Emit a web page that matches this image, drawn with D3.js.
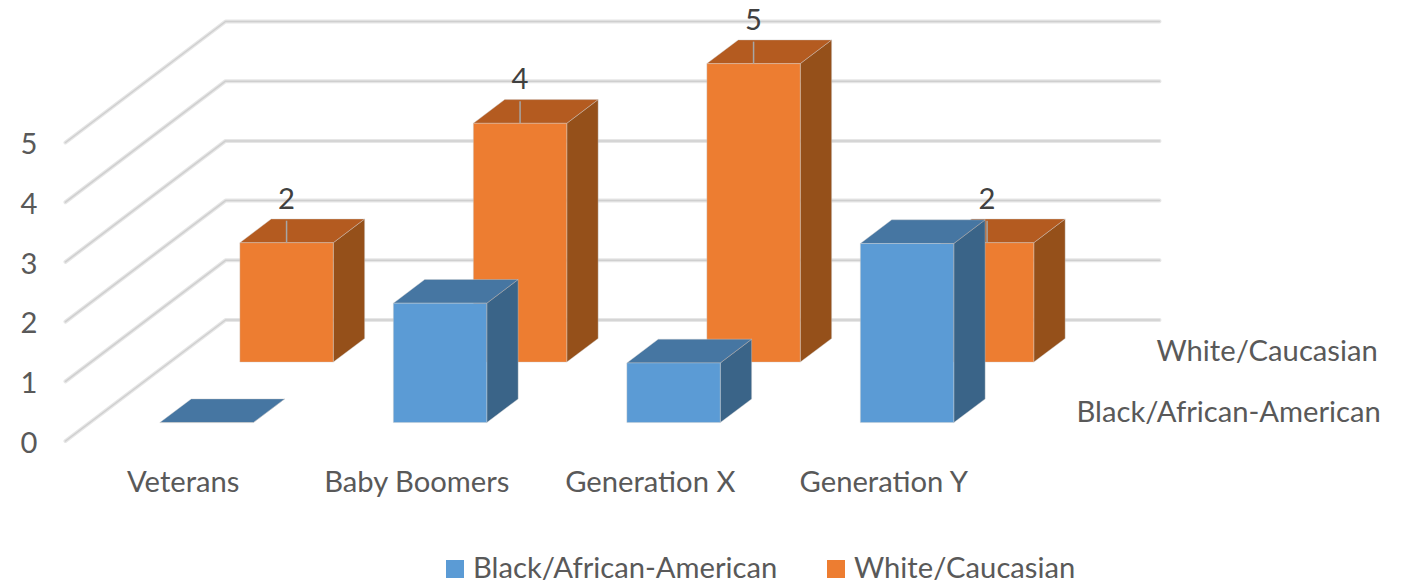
<!DOCTYPE html>
<html lang="en">
<head>
    <meta charset="UTF-8">
    <title>Generations 3D column chart</title>
    <style>
        html, body { margin: 0; padding: 0; background: #fff; }
        svg { display: block; }
        text { font-family: Lato, "Open Sans", sans-serif; font-size: 29.2px; fill: #595959; }
        .domain { display: none; }
        .tick line { display: none; }
    </style>
</head>
<body>
    <script src="https://cdn.jsdelivr.net/npm/d3@7/dist/d3.min.js"></script>
    <script>
        var categories = ["Veterans", "Baby Boomers", "Generation X", "Generation Y"];
        var seriesNames = ["Black/African-American", "White/Caucasian"];
        var blackValues = [0, 2, 1, 3];
        var whiteValues = [2, 4, 5, 2];
        var valueTicks = [0, 1, 2, 3, 4, 5];

        var width = 1414;
        var height = 587;

        // projection of the chart box
        var depthX = 160;
        var depthY = 121;

        var svg = d3.select('body').append('svg').attr('width', width).attr('height', height);

        var xScale = d3.scaleBand().domain(categories).range([65.5, 999.5]);
        var yScale = d3.scaleLinear().domain([0, 5]).range([441, 142.5]);
        var zScale = d3.scaleBand().domain(seriesNames).range([0, 1]).paddingInner(0.608).paddingOuter(0.304);

        function px(x, t) { return x + t * depthX; }
        function py(v, t) { return yScale(v) - t * depthY; }
        function pt(x, v, t) { return px(x, t) + ',' + py(v, t); }

        // gridlines: front edge, back corner, across the back wall
        function grid(color, size) {
            svg.append('g').selectAll('polyline').data(valueTicks).enter().append('polyline')
                .attr('fill', 'none')
                .attr('stroke', color)
                .attr('stroke-width', size)
                .attr('stroke-linecap', 'round')
                .attr('stroke-linejoin', 'round')
                .attr('points', function (v) {
                    var x0 = xScale.range()[0], x1 = xScale.range()[1];
                    return [pt(x0, v, 0), pt(x0, v, 1), pt(x1, v, 1)].join(' ');
                });
        }
        grid('#e6e6e6', 4);
        grid('#cfcfcf', 1.5);

        var seriesStyle = {
            "Black/African-American": { front: '#5b9bd5', top: '#4676a2', side: '#3a6488' },
            "White/Caucasian": { front: '#ed7d31', top: '#b45b20', side: '#95501a' }
        };

        function bars(name, values) {
            var col = seriesStyle[name];
            var t0 = zScale(name);
            var t1 = t0 + zScale.bandwidth();
            var w = xScale.bandwidth() * 0.4;
            var g = svg.append('g').selectAll('g').data(values).enter().append('g')
                .attr('stroke', 'rgba(205,205,205,0.4)')
                .attr('stroke-width', 1)
                .attr('stroke-linejoin', 'round');

            function left(i) { return xScale(categories[i]) + (xScale.bandwidth() - w) / 2; }

            g.append('polygon').attr('fill', col.side).attr('points', function (v, i) {
                var r = left(i) + w;
                return [pt(r, 0, t0), pt(r, v, t0), pt(r, v, t1), pt(r, 0, t1)].join(' ');
            });
            g.append('polygon').attr('fill', col.top).attr('points', function (v, i) {
                var l = left(i), r = l + w;
                return [pt(l, v, t0), pt(r, v, t0), pt(r, v, t1), pt(l, v, t1)].join(' ');
            });
            g.append('polygon').attr('fill', col.front).attr('points', function (v, i) {
                var l = left(i), r = l + w;
                return [pt(l, 0, t0), pt(r, 0, t0), pt(r, v, t0), pt(l, v, t0)].join(' ');
            });
        }

        // back row first so the front row covers it
        bars(seriesNames[1], whiteValues);
        bars(seriesNames[0], blackValues);

        // data labels with leader lines, white series only
        var tw = zScale(seriesNames[1]);
        var labels = svg.append('g').selectAll('g').data(whiteValues).enter().append('g');
        function labelX(i) { return px(xScale(categories[i]) + xScale.bandwidth() / 2, tw); }
        labels.append('line')
            .attr('stroke', '#a6a6a6')
            .attr('stroke-width', 1.5)
            .attr('x1', function (v, i) { return labelX(i); })
            .attr('x2', function (v, i) { return labelX(i); })
            .attr('y1', function (v) { return py(v, tw); })
            .attr('y2', function (v) { return py(v, tw) - 22; });
        labels.append('text')
            .attr('text-anchor', 'middle')
            .style('fill', '#404040')
            .attr('x', function (v, i) { return labelX(i); })
            .attr('y', function (v) { return py(v, tw) - 34; })
            .text(function (v) { return v; });

        // value axis
        svg.append('g').attr('transform', 'translate(29,2)')
            .call(d3.axisLeft(yScale).tickValues(valueTicks).tickFormat(d3.format('d')).tickSize(0).tickPadding(0))
            .selectAll('text').attr('text-anchor', 'middle');

        // category axis
        svg.append('g').attr('transform', 'translate(1,471)')
            .call(d3.axisBottom(xScale).tickSize(0).tickPadding(0));

        // series axis, right of the floor
        svg.append('g').selectAll('text').data(seriesNames).enter().append('text')
            .attr('x', function (d) { return px(xScale.range()[1], zScale(d) + zScale.bandwidth() / 2) + 37; })
            .attr('y', function (d) { return py(0, zScale(d) + zScale.bandwidth() / 2) + 11; })
            .text(function (d) { return d; });

        // legend
        var legendX = d3.scaleOrdinal().domain(seriesNames).range([446, 827]);
        var legend = svg.append('g').selectAll('g').data(seriesNames).enter().append('g')
            .attr('transform', function (d) { return 'translate(' + legendX(d) + ',560)'; });
        legend.append('rect').attr('width', 18).attr('height', 18)
            .attr('fill', function (d) { return seriesStyle[d].front; });
        legend.append('text').attr('x', 27).attr('y', 18).text(function (d) { return d; });
    </script>
</body>
</html>
